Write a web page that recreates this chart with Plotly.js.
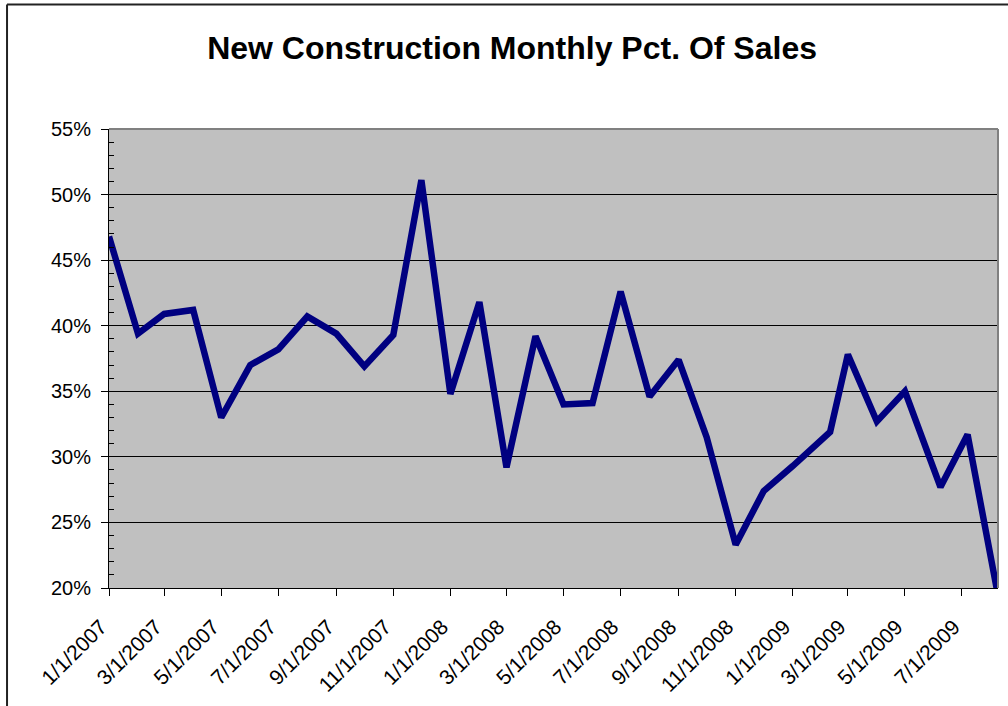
<!DOCTYPE html>
<html>
<head>
<meta charset="utf-8">
<script src="https://cdn.plot.ly/plotly-3.0.1.min.js"></script>
<style>
  html, body { margin: 0; padding: 0; background: #ffffff; }
  #chart { width: 1008px; height: 706px; }
</style>
</head>
<body>
<div id="chart"></div>
<script>
// Data
var dates = [
  '2007-01-01','2007-02-01','2007-03-01','2007-04-01','2007-05-01','2007-06-01',
  '2007-07-01','2007-08-01','2007-09-01','2007-10-01','2007-11-01','2007-12-01',
  '2008-01-01','2008-02-01','2008-03-01','2008-04-01','2008-05-01','2008-06-01',
  '2008-07-01','2008-08-01','2008-09-01','2008-10-01','2008-11-01','2008-12-01',
  '2009-01-01','2009-02-10','2009-03-01','2009-04-01','2009-05-01','2009-06-08',
  '2009-07-07','2009-08-07'
];
var pctSales = [
  0.468, 0.394, 0.409, 0.412, 0.330, 0.370, 0.382, 0.407, 0.394, 0.369, 0.393, 0.511,
  0.348, 0.418, 0.292, 0.392, 0.340, 0.341, 0.426, 0.346, 0.374, 0.315, 0.233, 0.274,
  0.293, 0.319, 0.378, 0.327, 0.350, 0.277, 0.317, 0.200
];
var tickDates = [
  '2007-01-01','2007-03-01','2007-05-01','2007-07-01','2007-09-01','2007-11-01',
  '2008-01-01','2008-03-01','2008-05-01','2008-07-01','2008-09-01','2008-11-01',
  '2009-01-01','2009-03-01','2009-05-01','2009-07-01'
];
var tickLabels = [
  '1/1/2007','3/1/2007','5/1/2007','7/1/2007','9/1/2007','11/1/2007',
  '1/1/2008','3/1/2008','5/1/2008','7/1/2008','9/1/2008','11/1/2008',
  '1/1/2009','3/1/2009','5/1/2009','7/1/2009'
];
var chartTitle = 'New Construction Monthly Pct. Of Sales';

var trace = {
  x: dates,
  y: pctSales,
  type: 'scatter',
  mode: 'lines',
  line: { color: '#000080', width: 6.5 },
  cliponaxis: true,
  hoverinfo: 'x+y'
};

var layout = {
  width: 1008,
  height: 706,
  margin: { l: 109, r: 10, t: 129, b: 118 },
  paper_bgcolor: '#ffffff',
  plot_bgcolor: '#c0c0c0',
  showlegend: false,
  font: { family: 'Arial, "Liberation Sans", sans-serif', color: '#000000' },
  title: {
    text: '<b>' + chartTitle + '</b>',
    font: { family: 'Arial, "Liberation Sans", sans-serif', size: 32, color: '#000000' },
    x: 0.508, xanchor: 'center',
    y: 0.933, yanchor: 'middle'
  },
  xaxis: {
    type: 'date',
    range: ['2007-01-01', '2009-08-08 12:00'],
    tickmode: 'array',
    tickvals: tickDates,
    // trailing no-break spaces nudge the rotated labels left of their ticks, as in the reference
    ticktext: tickLabels.map(function (t) { return t + '\u00a0\u00a0'; }),
    tickangle: -45,
    tickfont: { size: 21, color: '#000000' },
    ticks: 'outside',
    ticklen: 7,
    tickwidth: 1,
    tickcolor: '#000000',
    ticklabelstandoff: 2,
    showgrid: false,
    showline: true,
    linecolor: '#000000',
    linewidth: 1,
    zeroline: false,
    fixedrange: true
  },
  yaxis: {
    range: [0.20, 0.55],
    dtick: 0.05,
    tick0: 0.20,
    tickformat: '.0%',
    tickfont: { size: 20, color: '#000000' },
    ticks: 'outside',
    ticklen: 7,
    tickwidth: 1,
    tickcolor: '#000000',
    ticklabelstandoff: 6,
    showgrid: true,
    gridcolor: '#000000',
    gridwidth: 1,
    showline: true,
    linecolor: '#000000',
    linewidth: 1,
    zeroline: false,
    minor: {
      dtick: 0.01,
      ticks: 'inside',
      ticklen: 5,
      tickwidth: 1,
      tickcolor: '#000000',
      showgrid: false
    },
    fixedrange: true
  },
  shapes: [
    { type: 'line', xref: 'paper', yref: 'paper', x0: 0, x1: 1, y0: 1, y1: 1,
      line: { color: '#808080', width: 2 } },
    { type: 'line', xref: 'paper', yref: 'paper', x0: 1, x1: 1, y0: 0, y1: 1,
      line: { color: '#808080', width: 2 } },
    { type: 'line', xref: 'paper', yref: 'paper', x0: -0.1147, x1: 1.02, y0: 1.2712, y1: 1.2712,
      line: { color: '#222222', width: 2 } },
    { type: 'line', xref: 'paper', yref: 'paper', x0: -0.1147, x1: -0.1147, y0: -0.27, y1: 1.2712,
      line: { color: '#222222', width: 2 } }
  ]
};

Plotly.newPlot('chart', [trace], layout, { displayModeBar: false, staticPlot: true });
</script>
</body>
</html>
